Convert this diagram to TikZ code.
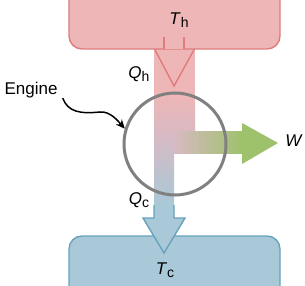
\documentclass[tikz,border=0pt]{standalone}
\usepackage{fontspec}
\setmainfont{Liberation Sans}
\usetikzlibrary{arrows.meta,positioning}
\definecolor{hotfill}{HTML}{EEB6B6}
\definecolor{hotline}{HTML}{E07C7C}
\definecolor{coldfill}{HTML}{A9C9D8}
\definecolor{coldline}{HTML}{67A3BC}
\definecolor{mixfill}{HTML}{D9B9C3}
\definecolor{workgreen}{HTML}{9DC26B}
\definecolor{enginegray}{HTML}{808080}
\tikzset{
  reservoir/.style={rectangle,rounded corners=13pt,line width=1.4pt,minimum width=211pt,minimum height=90pt},
  hotres/.style={reservoir,draw=hotline,fill=hotfill},
  coldres/.style={reservoir,draw=coldline,fill=coldfill},
  engine/.style={circle,draw=enginegray,line width=3pt,minimum size=102pt,inner sep=0pt},
  lbl/.style={inner sep=0pt,font=\fontsize{17}{20}\selectfont},
  pointer/.style={-{Stealth[length=9pt,width=8pt]},line width=1.5pt,draw=black}
}
\newcommand{\lowsub}[1]{\raisebox{-3pt}{\fontsize{14}{14}\selectfont #1}}

\begin{document}
\begin{tikzpicture}[x=1pt,y=-1pt]
  \clip (0,0) rectangle (305,286);
  \fill[white] (0,0) rectangle (305,286);
  \fill[hotfill] (154,48) rectangle (195,96);
  \shade[top color=hotfill,bottom color=mixfill] (154,95.5) rectangle (195,132.5);
  \shade[top color=mixfill,bottom color=coldfill] (154,132) rectangle (174,206);
  \shade[left color=mixfill,right color=workgreen] (174,132) rectangle (242.5,153);
  \fill[workgreen] (242,123) -- (278,143) -- (242,164) -- cycle;
  \filldraw[draw=hotline,fill=hotfill,line width=1.4pt] (154,48) -- (174,86) -- (195,48);
  \node[hotres] (hot) at (174.5,4) {};
  \fill[hotfill] (164,30) rectangle (184,49.5);
  \draw[hotline,line width=1.4pt] (164,37) -- (164,48.7) (184,37) -- (184,48.7);
  \node[coldres] (cold) at (174.5,281) {};
  \filldraw[draw=coldline,fill=coldfill,line width=1.4pt] (154,205) -- (154,218) -- (143,218) -- (164,253) -- (185,218) -- (174,218) -- (174,205);
  \node[engine] (eng) at (175,144) {};
  \node[lbl] (th) at (179,20) {\textit{T}\lowsub{h}};
  \node[lbl] (qh) at (139,74) {\textit{Q}\lowsub{h}};
  \node[lbl] (qc) at (139,200) {\textit{Q}\lowsub{c}};
  \node[lbl] (tc) at (165,270) {\textit{T}\lowsub{c}};
  \node[lbl] (w) at (294,141) {\textit{W}};
  \node[lbl] (engtxt) at (31,90) {Engine};
  \draw[pointer] ([xshift=5pt]engtxt.south east) .. controls (68,112) and (80,114) .. (100,112) .. controls (110,111) and (118,121) .. (eng.163);
\end{tikzpicture}
\end{document}
